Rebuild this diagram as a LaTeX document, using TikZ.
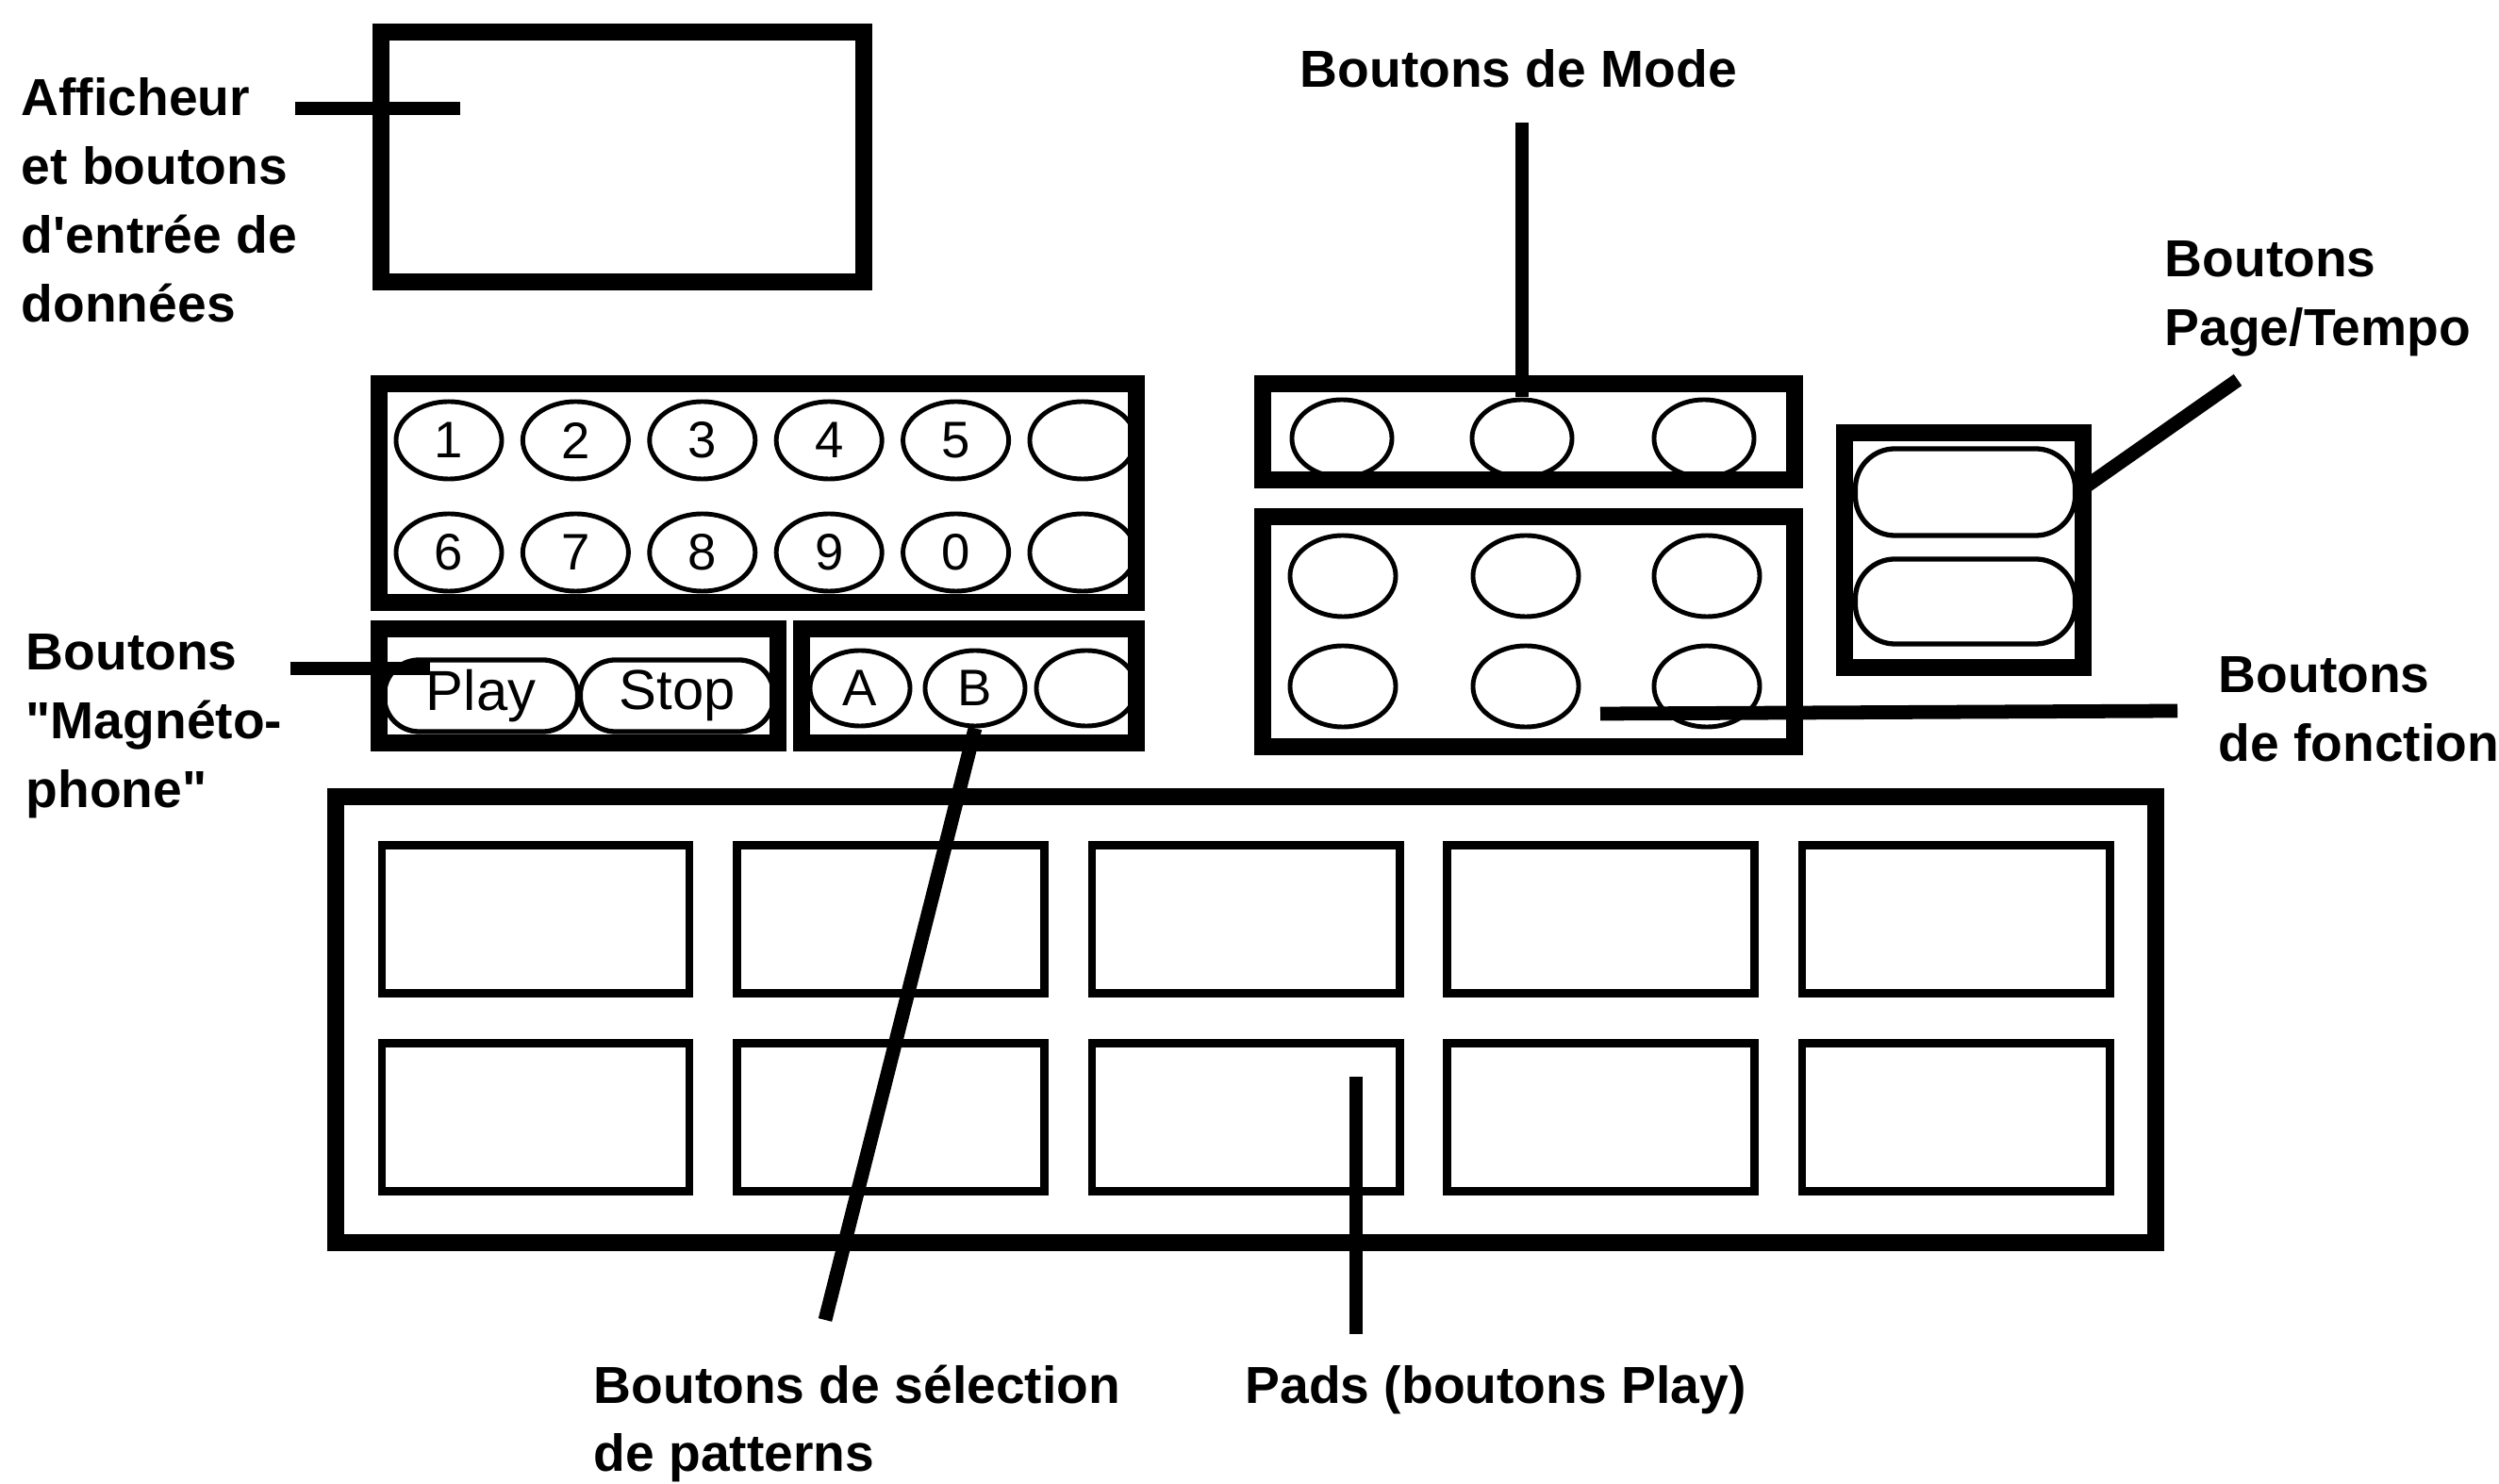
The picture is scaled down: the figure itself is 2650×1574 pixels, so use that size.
\documentclass[tikz,border=0pt]{standalone}
\usepackage{fontspec}
\newfontfamily\lblfont{Liberation Sans}
\usetikzlibrary{shapes.geometric}

\begin{document}
\begin{tikzpicture}[x=0.01cm,y=-0.01cm,
  panel/.style={line width=5pt},
  btn/.style={draw,ellipse,line width=1.4pt,inner sep=0pt,minimum width=1.12cm,minimum height=0.82cm,font=\lblfont\fontsize{15.5}{18}\selectfont},
  pill/.style={draw,rectangle,rounded corners=0.37cm,line width=1.5pt,inner sep=0pt,minimum width=2.05cm,minimum height=0.76cm,font=\lblfont\fontsize{17}{20}\selectfont},
  padbox/.style={draw,rectangle,line width=2.5pt,inner sep=0pt,minimum width=3.26cm,minimum height=1.57cm},
  lbl/.style={anchor=north west,align=left,inner sep=0pt,font=\lblfont\bfseries\fontsize{15.7}{20.7}\selectfont},
  leader/.style={line width=4.2pt}]
  \useasboundingbox (0,0) rectangle (2650,1574);
  \draw[panel] (404,34) rectangle (916,299);
  \foreach \d [count=\i from 0] in {1,2,3,4,5,{}} {
    \node[btn] (ka\i) at (476+134.4*\i,467) {\d};
  }
  \foreach \d [count=\i from 0] in {6,7,8,9,0,{}} {
    \node[btn] (kb\i) at (476+134.4*\i,586) {\d};
  }
  \draw[panel] (402,407) rectangle (1205,639);
  \node[pill] (play) at (510,738) {Play};
  \node[pill] (stop) at (718,738) {Stop};
  \draw[panel] (402,667) rectangle (825,788);
  \node[btn,minimum width=1.06cm,minimum height=0.8cm] (pA) at (912,730) {A};
  \node[btn,minimum width=1.06cm,minimum height=0.8cm] (pB) at (1034,730) {B};
  \node[btn,minimum width=1.06cm,minimum height=0.8cm] (pC) at (1152,730) {};
  \draw[panel] (850,667) rectangle (1205,788);
  \foreach \x [count=\i] in {1423,1614,1807} {
    \node[btn,minimum width=1.06cm] (mode\i) at (\x,465) {};
  }
  \draw[panel] (1339,407) rectangle (1903,509);
  \foreach \x [count=\i] in {1424,1618,1810} {
    \node[btn,minimum height=0.86cm] (fa\i) at (\x,611) {};
    \node[btn,minimum height=0.86cm] (fb\i) at (\x,728) {};
  }
  \draw[panel] (1339,548) rectangle (1903,792);
  \node[pill,minimum width=2.33cm,minimum height=0.92cm,rounded corners=0.42cm] (pt1) at (2084,522) {};
  \node[pill,minimum width=2.33cm,minimum height=0.9cm,rounded corners=0.42cm] (pt2) at (2084,638) {};
  \draw[panel] (1956,459) rectangle (2209,708);
  \draw[panel] (356,845) rectangle (2286,1318);
  \foreach \c in {0,...,4} {
    \node[padbox] (pa\c) at (568+376.5*\c,975) {};
    \node[padbox] (pb\c) at (568+376.5*\c,1185) {};
  }
  \node[lbl] (lAff) at (22,82) {Afficheur\\et boutons\\d'entrée de\\données};
  \node[lbl] (lMag) at (27,672) {Boutons\\"Magnéto-\\phone"};
  \node[lbl] (lMode) at (1378,52) {Boutons de Mode};
  \node[lbl] (lPT) at (2295,255) {Boutons\\Page/Tempo};
  \node[lbl] (lFn) at (2352,696) {Boutons\\de fonction};
  \node[lbl] (lSel) at (629,1447) {Boutons de sélection\\de patterns};
  \node[lbl] (lPads) at (1320,1448) {Pads (boutons Play)};
  \coordinate (affA) at (313,115);
  \coordinate (affB) at (488,115);
  \coordinate (magA) at (308,709);
  \coordinate (magB) at (456,709);
  \coordinate (modeA) at (1614,130);
  \coordinate (ptA) at (2373,403);
  \coordinate (fnA) at (1697,757);
  \coordinate (fnB) at (2309,754);
  \coordinate (selB) at (875,1400);
  \coordinate (padA) at (1438,1142);
  \coordinate (padB) at (1438,1415);
  \draw[leader] (affA) -- (affB);
  \draw[leader] (magA) -- (magB);
  \draw[leader] (modeA) -- (mode2.north);
  \draw[leader] (ptA) -- (pt1.east);
  \draw[leader] (fnA) -- (fnB);
  \draw[leader] (pB.south) -- (selB);
  \draw[leader] (padA) -- (padB);
\end{tikzpicture}
\end{document}
